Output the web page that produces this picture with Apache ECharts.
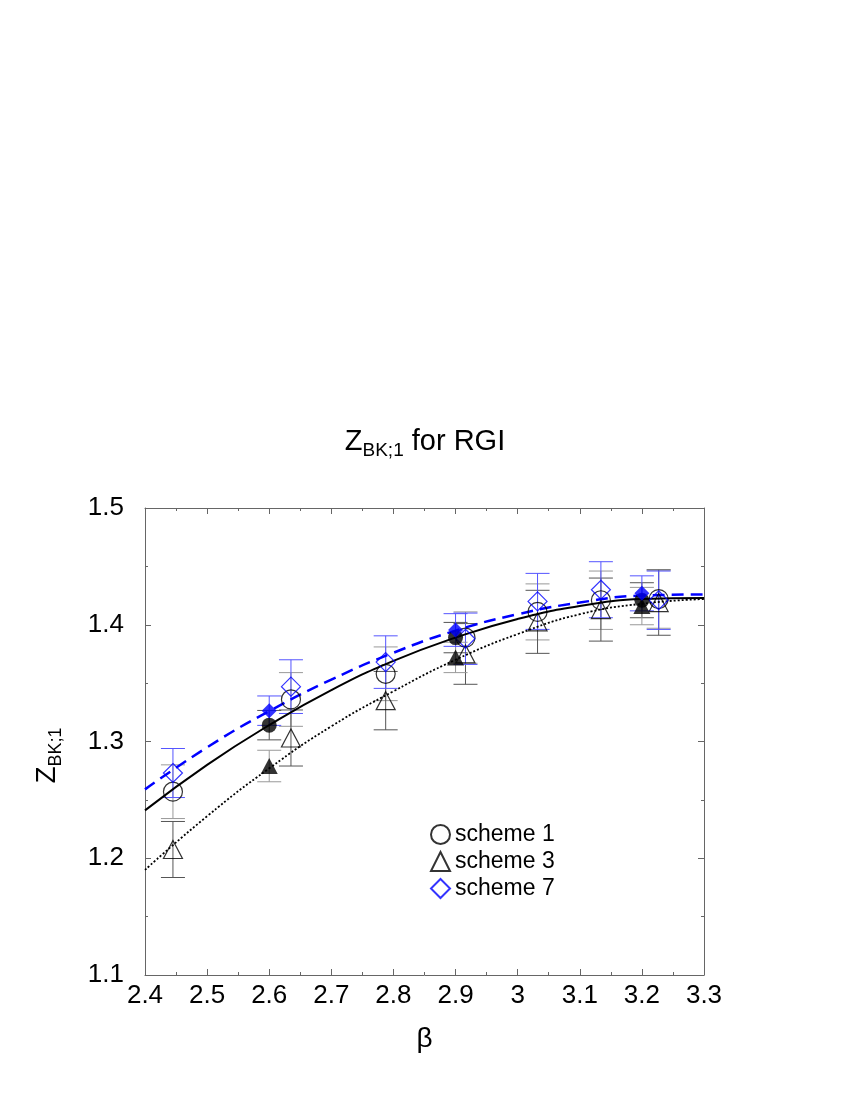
<!DOCTYPE html>
<html><head><meta charset="utf-8">
<script src="https://cdn.jsdelivr.net/npm/echarts@6/dist/echarts.min.js"></script>
<style>html,body{margin:0;padding:0;background:#fff}#c{width:850px;height:1100px}</style>
</head><body><div id="c"></div>
<script>
// Fit curves
const curveX     = [2.4, 2.5, 2.6, 2.7, 2.8, 2.9, 3.0, 3.1, 3.2, 3.3];
const fitScheme1 = [1.241, 1.280, 1.314, 1.344, 1.369, 1.389, 1.405, 1.416, 1.422, 1.423];
const fitScheme3 = [1.190, 1.236, 1.277, 1.313, 1.343, 1.370, 1.392, 1.409, 1.418, 1.422];
const fitScheme7 = [1.259, 1.295, 1.326, 1.353, 1.376, 1.395, 1.409, 1.419, 1.425, 1.426];

// [beta, Z, error]
const scheme1Open = [[2.445,1.257,0.023],[2.635,1.336,0.023],[2.7875,1.358,0.023],[2.916,1.389,0.022],[3.032,1.411,0.024],[3.134,1.421,0.025],[3.227,1.422,0.025]];
const scheme3Open = [[2.445,1.2075,0.024],[2.635,1.303,0.024],[2.7875,1.335,0.025],[2.916,1.375,0.026],[3.032,1.4025,0.027],[3.134,1.413,0.027],[3.227,1.419,0.028]];
const scheme7Open = [[2.445,1.273,0.021],[2.635,1.347,0.023],[2.7875,1.368,0.0225],[2.916,1.388,0.022],[3.032,1.420,0.024],[3.134,1.430,0.024],[3.227,1.421,0.025]];
const scheme1Filled = [[2.6,1.314,0.0126],[2.9,1.389,0.013],[3.2,1.421,0.015]];
const scheme3Filled = [[2.6,1.279,0.0135],[2.9,1.372,0.013],[3.2,1.416,0.016]];
const scheme7Filled = [[2.6,1.3264,0.0126],[2.9,1.3955,0.014],[3.2,1.4269,0.015]];

const FONT = 'Liberation Sans, Arial, Helvetica, sans-serif';
const BLUE = '#0000ff';

function errRender(color){
  return function(params, api){
    const x = api.value(0), y = api.value(1), e = api.value(2);
    const t = api.coord([x, y + e]), b = api.coord([x, y - e]);
    const hw = 12;
    const st = {stroke: color, lineWidth: 1};
    return {type:'group', children:[
      {type:'line', shape:{x1:t[0], y1:t[1], x2:b[0], y2:b[1]}, style:st},
      {type:'line', shape:{x1:t[0]-hw, y1:t[1], x2:t[0]+hw, y2:t[1]}, style:st},
      {type:'line', shape:{x1:b[0]-hw, y1:b[1], x2:b[0]+hw, y2:b[1]}, style:st}
    ]};
  };
}
function errSeries(name, data, color){
  return {name: name, type:'custom', renderItem: errRender(color), data: data,
    encode:{x:0, y:1}, z:1, silent:true, clip:false};
}
function pts(data){ return data.map(d => [d[0], d[1]]); }
function lineData(ys){ return curveX.map((x,i) => [x, ys[i]]); }

const axisCommon = {
  type:'value',
  axisLine:{show:true, onZero:false, lineStyle:{color:'#666', width:1}},
  axisTick:{show:true, inside:true, length:6, lineStyle:{color:'#666', width:1}},
  minorTick:{show:true, splitNumber:2, length:3, lineStyle:{color:'#666', width:1}},
  splitLine:{show:false}
};

const option = {
  animation:false,
  backgroundColor:'#fff',
  title:{
    text:'{z|Z}{s|BK;1}{z| for RGI}',
    left:'center', top:418,
    textStyle:{fontWeight:'normal', rich:{
      z:{fontSize:29, fontFamily:FONT, color:'#000', fontWeight:'normal'},
      s:{fontSize:19, fontFamily:FONT, color:'#000', fontWeight:'normal', padding:[18,0,0,0]}
    }}
  },
  grid:{left:145, top:508, right:146, bottom:125},
  legend:{
    orient:'vertical', left:430, top:823, padding:0, itemGap:4,
    itemWidth:19, itemHeight:19,
    data:['scheme 1','scheme 3','scheme 7'],
    textStyle:{fontSize:23, fontFamily:FONT, color:'#000'}
  },
  xAxis:[
    Object.assign({}, axisCommon, {
      min:2.4, max:3.3, interval:0.1, position:'bottom',
      axisLabel:{fontSize:26, fontFamily:FONT, color:'#000', margin:8},
      name:'β', nameLocation:'middle', nameGap:50,
      nameTextStyle:{fontSize:28, fontFamily:FONT, color:'#000'}
    }),
    Object.assign({}, axisCommon, {
      min:2.4, max:3.3, interval:0.1, position:'top', axisLabel:{show:false}
    })
  ],
  yAxis:[
    Object.assign({}, axisCommon, {
      min:1.1, max:1.5, interval:0.1, position:'left',
      axisLabel:{fontSize:26, fontFamily:FONT, color:'#000', margin:21},
      name:'{z|Z}{s|BK;1}', nameLocation:'middle', nameGap:80, nameRotate:90,
      nameTextStyle:{padding:[0,28,0,0], rich:{
        z:{fontSize:28, fontFamily:FONT, color:'#000'},
        s:{fontSize:18, fontFamily:FONT, color:'#000', padding:[17,0,0,0]}
      }}
    }),
    Object.assign({}, axisCommon, {
      min:1.1, max:1.5, interval:0.1, position:'right', axisLabel:{show:false}
    })
  ],
  series:[
    errSeries('err1', scheme1Open, '#999'),
    errSeries('err3', scheme3Open, '#555'),
    errSeries('err7', scheme7Open, '#5555ff'),
    errSeries('err1f', scheme1Filled, '#555'),
    errSeries('err3f', scheme3Filled, '#999'),
    errSeries('err7f', scheme7Filled, '#5555ff'),
    {name:'fit 1', type:'line', smooth:true, showSymbol:false, data:lineData(fitScheme1), z:2,
      lineStyle:{color:'#000', width:2, type:'solid'}, silent:true},
    {name:'fit 3', type:'line', smooth:true, showSymbol:false, data:lineData(fitScheme3), z:2,
      lineStyle:{color:'#000', width:1.8, type:[2,2]}, silent:true},
    {name:'fit 7', type:'line', smooth:true, showSymbol:false, data:lineData(fitScheme7), z:2,
      lineStyle:{color:BLUE, width:2.5, type:[12,7]}, silent:true},
    {name:'scheme 1', type:'scatter', data:pts(scheme1Open), symbol:'circle', symbolSize:19, z:3,
      itemStyle:{color:'rgba(0,0,0,0)', borderColor:'#000', borderWidth:1.2}},
    {name:'scheme 3', type:'scatter', data:pts(scheme3Open), symbol:'triangle', symbolSize:[19,18], z:3,
      itemStyle:{color:'rgba(0,0,0,0)', borderColor:'#000', borderWidth:1.2}},
    {name:'scheme 7', type:'scatter', data:pts(scheme7Open), symbol:'diamond', symbolSize:[19,19], z:3,
      itemStyle:{color:'rgba(0,0,0,0)', borderColor:BLUE, borderWidth:1.2}},
    {name:'scheme 1 filled', type:'scatter', data:pts(scheme1Filled), symbol:'circle', symbolSize:15, z:3,
      itemStyle:{color:'#000'}},
    {name:'scheme 3 filled', type:'scatter', data:pts(scheme3Filled), symbol:'triangle', symbolSize:[17,16], z:3,
      itemStyle:{color:'#000'}},
    {name:'scheme 7 filled', type:'scatter', data:pts(scheme7Filled), symbol:'diamond', symbolSize:[15,15], z:4,
      itemStyle:{color:BLUE}}
  ]
};
const chart = echarts.init(document.getElementById('c'), null, {renderer:'canvas'});
chart.setOption(option);
</script>
</body></html>
